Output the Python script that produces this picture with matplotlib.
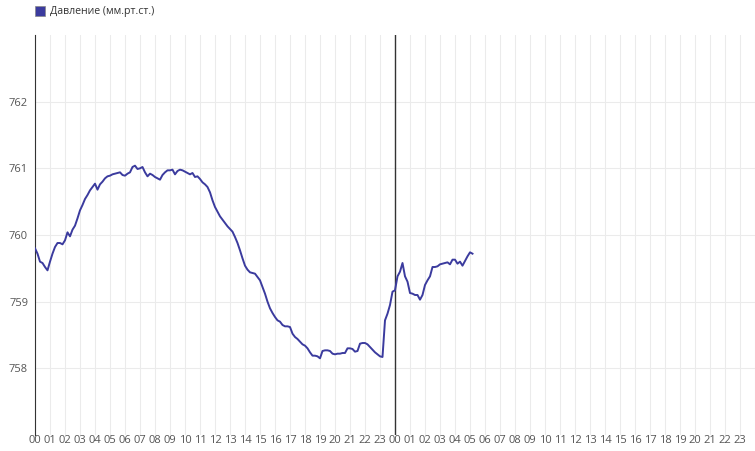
import matplotlib
matplotlib.use("Agg")
import matplotlib.pyplot as plt
from matplotlib.patches import Rectangle
import numpy as np

plt.rcParams["font.family"] = ["Open Sans", "DejaVu Sans"]

# --- данные: давление каждые 10 минут, начиная с 00:00 первого дня ---
pressure = [
    759.80, 759.72, 759.60, 759.58, 759.52, 759.47,
    759.60, 759.72, 759.82, 759.88, 759.88, 759.86,
    759.92, 760.04, 759.98, 760.08, 760.14, 760.25,
    760.37, 760.45, 760.54, 760.60, 760.67, 760.72,
    760.77, 760.68, 760.76, 760.80, 760.85, 760.88,
    760.89, 760.91, 760.92, 760.93, 760.94, 760.90,
    760.89, 760.92, 760.94, 761.02, 761.04, 760.99,
    761.00, 761.02, 760.94, 760.88, 760.92, 760.90,
    760.87, 760.85, 760.83, 760.90, 760.94, 760.97,
    760.97, 760.98, 760.91, 760.96, 760.98, 760.97,
    760.95, 760.93, 760.91, 760.93, 760.87, 760.88,
    760.84, 760.79, 760.76, 760.72, 760.64, 760.52,
    760.42, 760.35, 760.28, 760.23, 760.18, 760.13,
    760.09, 760.05, 759.97, 759.88, 759.77, 759.65,
    759.54, 759.48, 759.44, 759.43, 759.42, 759.37,
    759.32, 759.22, 759.12, 759.00, 758.90, 758.83,
    758.77, 758.72, 758.70, 758.65, 758.63, 758.63,
    758.62, 758.52, 758.47, 758.44, 758.40, 758.36,
    758.34, 758.30, 758.24, 758.19, 758.19, 758.18,
    758.15, 758.26, 758.27, 758.27, 758.26, 758.22,
    758.21, 758.22, 758.22, 758.23, 758.23, 758.30,
    758.30, 758.29, 758.25, 758.26, 758.37, 758.38,
    758.38, 758.36, 758.32, 758.28, 758.24, 758.21,
    758.18, 758.17, 758.72, 758.82, 758.95, 759.15,
    759.17, 759.38, 759.45, 759.58, 759.38, 759.30,
    759.13, 759.12, 759.10, 759.10, 759.03, 759.10,
    759.25, 759.32, 759.38, 759.52, 759.52, 759.53,
    759.56, 759.57, 759.58, 759.59, 759.56, 759.63,
    759.63, 759.57, 759.60, 759.54, 759.61, 759.68,
    759.74, 759.72,
]
hours = np.arange(len(pressure)) / 6.0
hour_labels = [f"{h:02d}" for h in range(24)] * 2
y_ticks = [758, 759, 760, 761, 762]
series_name = "Давление (мм.рт.ст.)"

LINE = "#3b3b9e"
GRID = "#ebebeb"
TXT = "#555555"

fig = plt.figure(figsize=(7.55, 4.51), dpi=100)
ax = fig.add_axes([35 / 755, 16 / 451, 720 / 755, 400 / 451])

ax.plot(hours, pressure, color=LINE, lw=1.4, zorder=3)

ax.set_xlim(0, 48)
ax.set_ylim(757, 763)
ax.set_xticks(range(48))
ax.set_xticklabels(hour_labels)
ax.set_yticks(y_ticks)
ax.grid(True, axis="both", color=GRID, lw=0.75, zorder=0)
ax.axvline(48, color=GRID, lw=0.75, zorder=0)
ax.tick_params(axis="both", length=0, labelsize=8, colors=TXT)
ax.tick_params(axis="x", pad=0)
ax.tick_params(axis="y", pad=5)
for s in ["top", "right", "bottom"]:
    ax.spines[s].set_visible(False)
ax.spines["left"].set_color("#333333")
ax.axvline(24, color="#333333", lw=1, zorder=2)

# легенда
fig.patches.append(Rectangle((35 / 755, 1 - 16 / 451), 10 / 755, 10 / 451,
                             transform=fig.transFigure, facecolor=LINE,
                             edgecolor="#888888", lw=0.5))
fig.text(50 / 755, 1 - 11.5 / 451, series_name, ha="left", va="center",
         fontsize=7.6, color="#333333")

fig.savefig("out.png", dpi=100)
